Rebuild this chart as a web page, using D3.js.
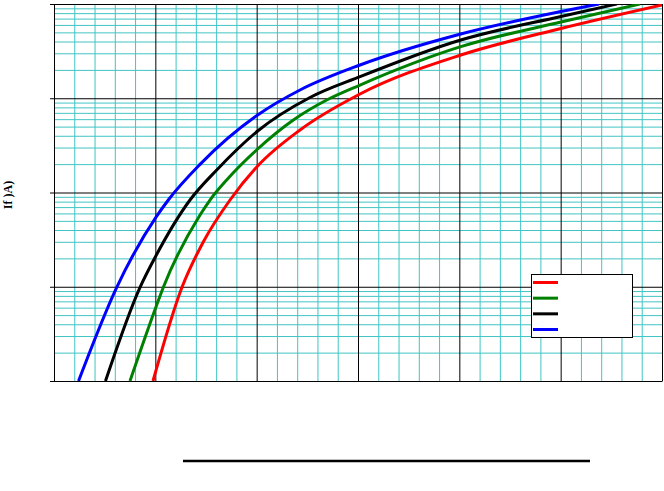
<!DOCTYPE html>
<html><head><meta charset="utf-8">
<script src="https://cdn.jsdelivr.net/npm/d3@7"></script>
<style>html,body{margin:0;padding:0;background:#fff;} svg{display:block;}</style>
</head><body>
<svg id="chart" width="664" height="491"></svg>
<script>
// ---- data (x in major-division units, y log current) ----
const seriesKeys = ["red", "green", "black", "blue"];
const seriesColors = ["#ff0000", "#008000", "#000000", "#0000ff"];
const seriesLabels = ["", "", "", ""];

const redX   = [0.977, 1.263, 1.473, 1.737, 2.010, 2.428, 3.020, 4.014, 5.003, 6.0];
const redY   = [1, 9.87, 29.85, 83.25, 191.1, 460.4, 1109, 2876, 5497, 9759];

const greenX = [0.750, 1.0135, 1.079, 1.441, 1.5395, 1.704, 2.010, 2.362, 2.691, 3.020, 4.014, 5.003, 5.783];
const greenY = [1, 6.40, 9.87, 57.7, 83.25, 135.7, 289.4, 587.8, 958, 1382, 3524, 6442, 10000];

const blackX = [0.508, 0.849, 1.010, 1.342, 1.606, 2.010, 2.526, 3.020, 4.014, 5.003, 5.556];
const blackY = [1, 9.87, 21.73, 83.25, 173.3, 449.3, 1018, 1693, 4150, 7370, 10000];

const blueX  = [0.242, 0.619, 1.010, 1.128, 1.441, 2.010, 2.428, 3.020, 4.014, 5.003, 5.378];
const blueY  = [1, 9.87, 55.37, 83.25, 198.8, 664.3, 1223, 2253, 4805, 8325, 10000];

const xMajorTicks = [0, 1, 2, 3, 4, 5, 6];
const xMinorStep = 0.2;
const yDecades = [1, 10, 100, 1000, 10000];
const yLabel = "If )A)";

// ---- layout ----
const svg = d3.select("#chart");
const L = 54, R = 662, T = 4, B = 381;
const x = d3.scaleLinear().domain([0, 6]).range([L, R]);
const y = d3.scaleLog().domain([1, 10000]).range([B, T]);

const cyan = "#40c4c4";

// minor grid
const xMinor = d3.range(0, 6 + 1e-9, xMinorStep).filter(v => Math.abs(v - Math.round(v)) > 1e-6);
const yMinor = [];
yDecades.slice(0, -1).forEach(d => { for (let k = 2; k <= 9; k++) yMinor.push(d * k); });

svg.append("g").attr("transform", `translate(0,${B})`)
  .call(d3.axisBottom(x).tickValues(xMinor).tickSize(-(B - T)).tickFormat(""))
  .call(g => g.select(".domain").remove())
  .call(g => g.selectAll("line").attr("stroke", cyan));
svg.append("g").attr("transform", `translate(${L},0)`)
  .call(d3.axisLeft(y).tickValues(yMinor).tickSize(-(R - L)).tickFormat(""))
  .call(g => g.select(".domain").remove())
  .call(g => g.selectAll("line").attr("stroke", cyan));

// major grid
svg.append("g").attr("transform", `translate(0,${B})`)
  .call(d3.axisBottom(x).tickValues(xMajorTicks).tickSize(-(B - T)).tickFormat(""))
  .call(g => g.select(".domain").remove())
  .call(g => g.selectAll("line").attr("stroke", "#000"));
svg.append("g").attr("transform", `translate(${L},0)`)
  .call(d3.axisLeft(y).tickValues(yDecades).tickSizeInner(-(R - L)).tickSizeOuter(0).tickFormat(""))
  .call(g => g.select(".domain").remove())
  .call(g => g.selectAll("line").attr("stroke", "#000"));
// small outside ticks on left
svg.append("g").attr("transform", `translate(${L},0)`)
  .call(d3.axisLeft(y).tickValues(yDecades).tickSize(4).tickFormat(""))
  .call(g => g.selectAll("path,line").attr("stroke", "#000"));
svg.append("g").attr("transform", `translate(0,${B})`)
  .call(d3.axisBottom(x).tickValues([]).tickSizeOuter(0))
  .call(g => g.selectAll("path").attr("stroke", "#000"));

// clip
svg.append("clipPath").attr("id", "clip").append("rect")
  .attr("x", L).attr("y", T).attr("width", R - L).attr("height", B - T);

const seriesX = [redX, greenX, blackX, blueX];
const seriesY = [redY, greenY, blackY, blueY];
const line = d3.line().x(d => x(d[0])).y(d => y(d[1])).curve(d3.curveMonotoneX);
const gLines = svg.append("g").attr("clip-path", "url(#clip)");
seriesKeys.forEach((k, i) => {
  const pts = seriesX[i].map((v, j) => [v, seriesY[i][j]]);
  gLines.append("path").datum(pts).attr("d", line)
    .attr("fill", "none").attr("stroke", seriesColors[i]).attr("stroke-width", 3);
});

// legend
const lg = svg.append("g");
lg.append("rect").attr("x", 531.5).attr("y", 274.5).attr("width", 101).attr("height", 63)
  .attr("fill", "#fff").attr("stroke", "#000").attr("stroke-width", 1);
const legY = d3.scalePoint().domain(seriesKeys).range([282.5, 329.5]);
seriesKeys.forEach((k, i) => {
  lg.append("line").attr("x1", 533).attr("x2", 558).attr("y1", legY(k)).attr("y2", legY(k))
    .attr("stroke", seriesColors[i]).attr("stroke-width", 3);
  lg.append("text").attr("x", 562).attr("y", legY(k) + 4).attr("font-size", 10)
    .attr("font-family", "Liberation Serif").text(seriesLabels[i]);
});

// y label
svg.append("text").attr("transform", "translate(12,195) rotate(-90)")
  .attr("text-anchor", "middle").attr("font-family", "Liberation Serif, serif")
  .attr("font-weight", "bold").attr("font-size", 12).text(yLabel);

// x title underline
svg.append("line").attr("x1", 183).attr("x2", 590).attr("y1", 461).attr("y2", 461)
  .attr("stroke", "#000").attr("stroke-width", 2.5);
</script>
</body></html>
